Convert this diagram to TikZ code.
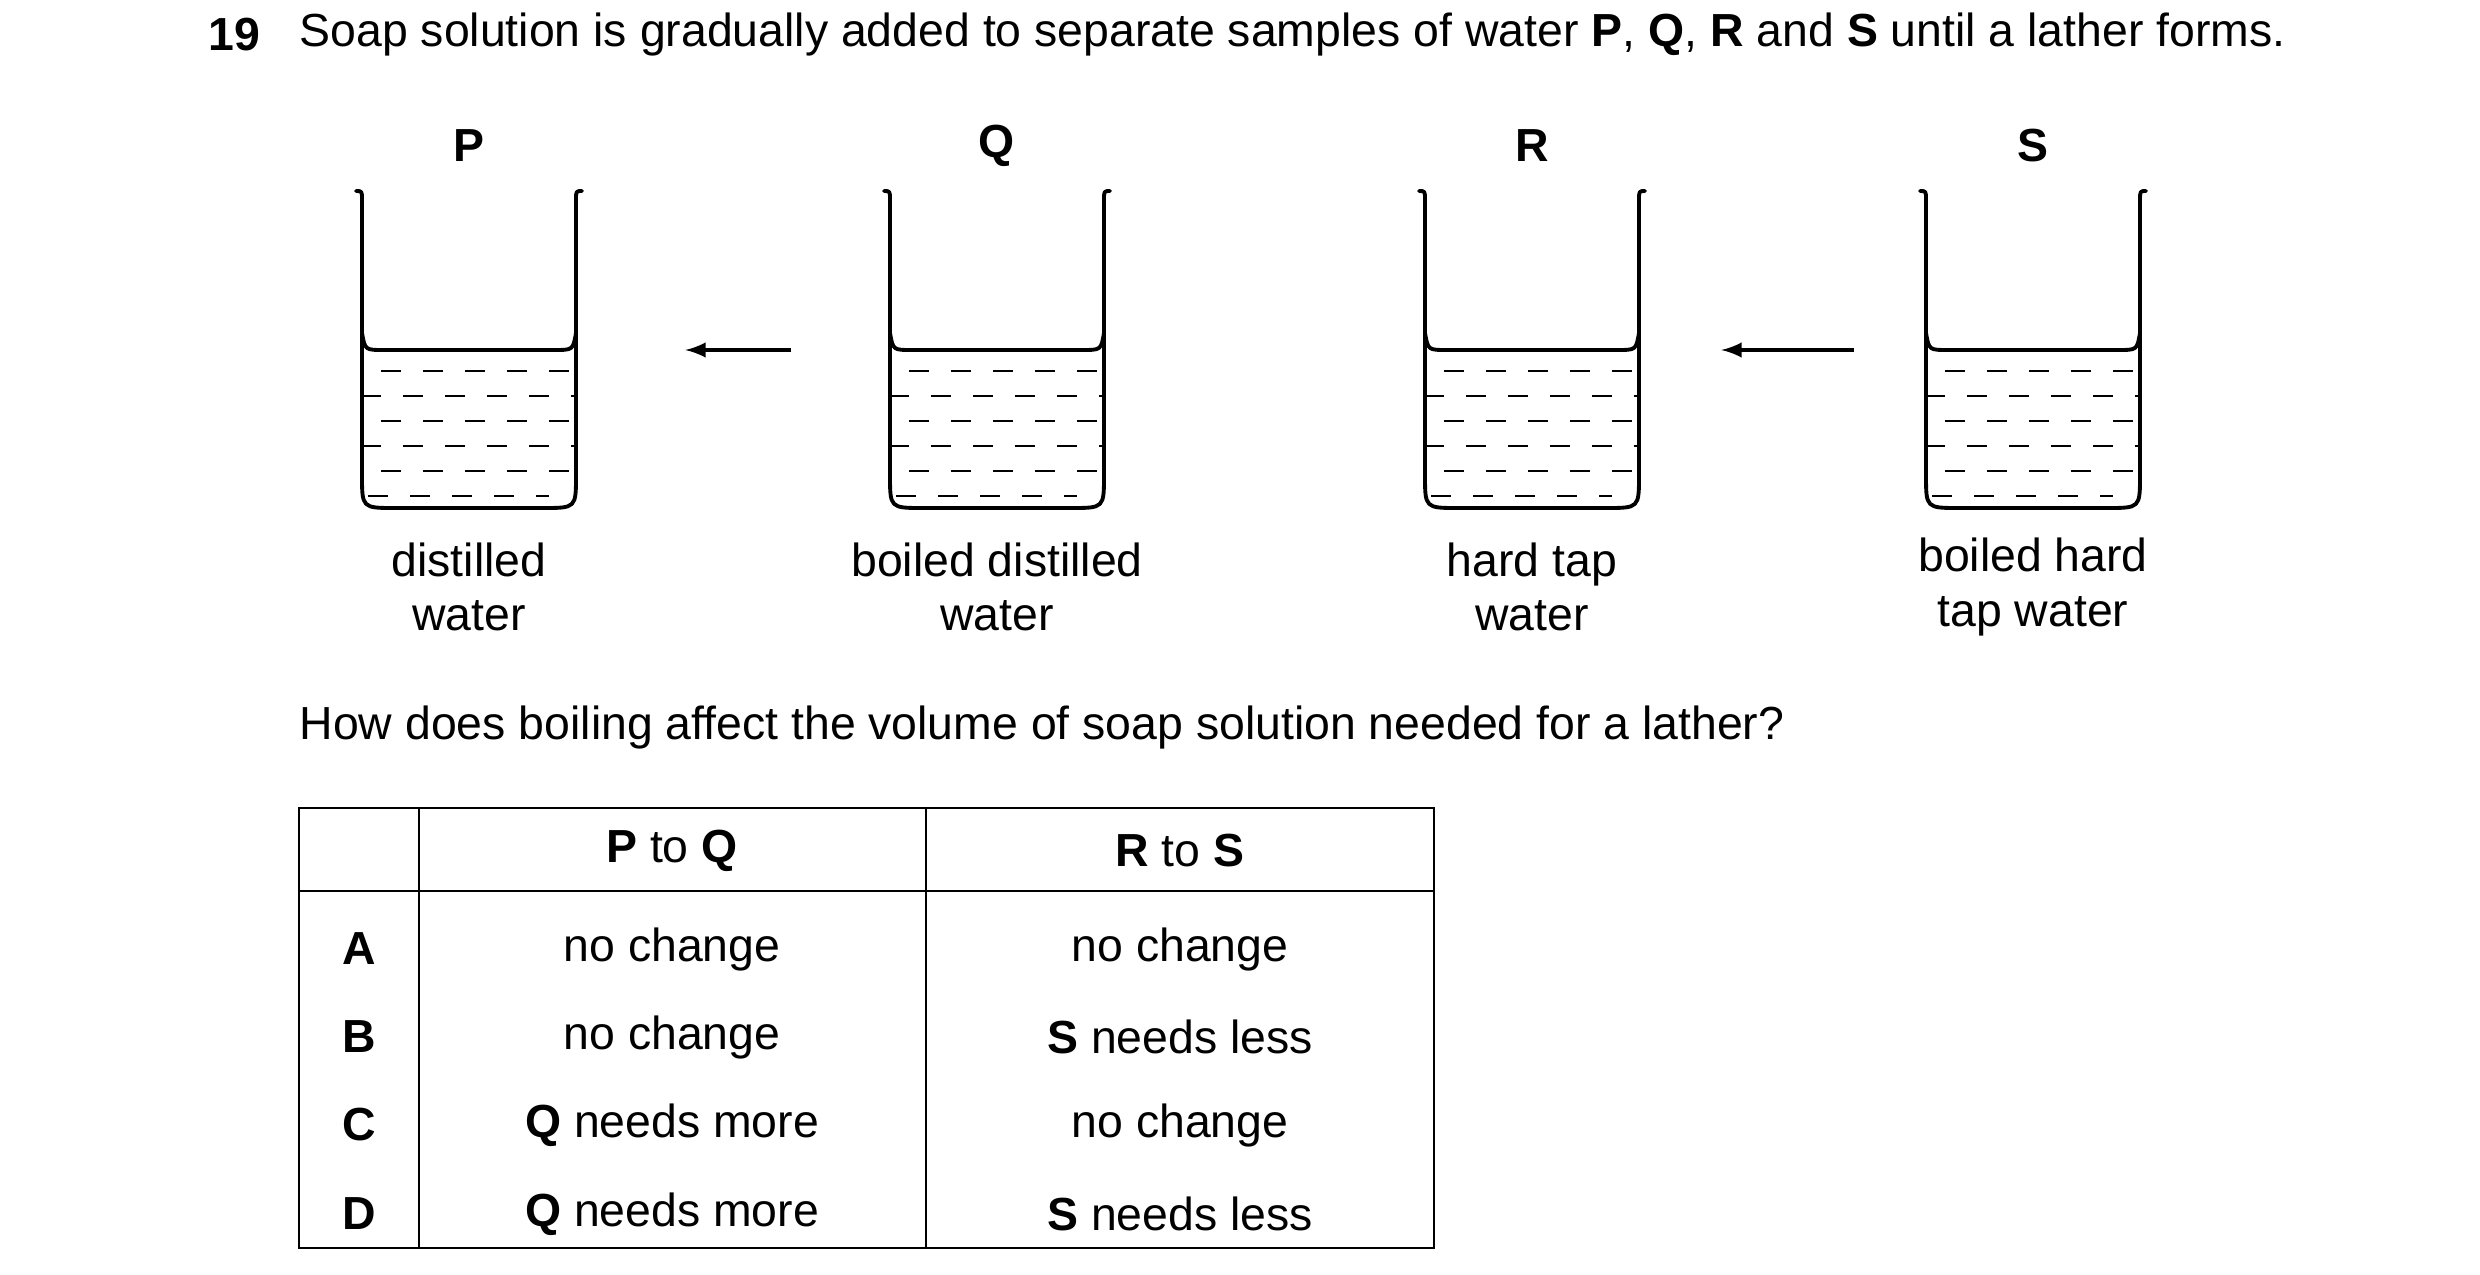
\documentclass[tikz,border=0pt]{standalone}
\usepackage{fontspec}
\setmainfont{Liberation Sans}
\begin{document}
\begin{tikzpicture}[x=0.1mm,y=-0.1mm,>=latex,
    txt/.style={inner sep=0pt,font=\fontsize{13.2}{15.5}\selectfont},
    caption/.style={txt,align=center},
    beaker/.style={inner sep=0pt,minimum width=213,minimum height=0pt},
    wall/.style={line width=1.1pt,line cap=round,line join=round},
    water/.style={line width=0.55pt}]
\useasboundingbox (0,0) rectangle (2480,1275);
\node[txt,anchor=west] (num) at (208,35) {\textbf{19}};
\node[txt,anchor=west] (title) at (299,35) {Soap solution is gradually added to separate samples of water \textbf{P}, \textbf{Q}, \textbf{R} and \textbf{S} until a lather forms.};
% beakers
\foreach \name/\x/\top/\bot in {P/469/distilled/water, Q/997/boiled distilled/water, R/1532/hard tap/water, S/2033/boiled hard/tap water}{
  \node[beaker] (b\name) at (\x,350) {};
  \node[txt] (l\name) at (\x,146) {\textbf{\name}};
  \node[caption] (c\name) at (\x,587) {\top\\\bot};
  \draw[wall] (\x-113,191) .. controls (\x-107,191) .. (\x-107,200) -- (\x-107,475)
    .. controls (\x-107,508) .. (\x-74,508) -- (\x+74,508)
    .. controls (\x+107,508) .. (\x+107,475) -- (\x+107,200)
    .. controls (\x+107,191) .. (\x+113,191);
  \draw[wall] (\x-107,333) .. controls (\x-104,350) .. (\x-85,350) -- (\x+85,350)
    .. controls (\x+104,350) .. (\x+107,333);
  \foreach \y in {371,421,471}
    \draw[water,dash pattern=on 5.69pt off 6.26pt] (\x-88,\y) -- (\x+100,\y);
  \foreach \y in {396,446}
    \draw[water,dash pattern=on 5.69pt off 6.26pt,dash phase=0.3pt] (\x-107,\y) -- (\x+107,\y);
  \draw[water,dash pattern=on 5.69pt off 6.26pt] (\x-101,496) -- (\x+80,496);
}
\draw[->,line width=1pt,shorten <=15pt,shorten >=18pt] (bP) -- (bQ);
\draw[->,line width=1pt,shorten <=15pt,shorten >=18pt] (bR) -- (bS);
\node[txt,anchor=west] (question) at (299,728) {How does boiling affect the volume of soap solution needed for a lather?};
% table
\draw[line width=0.7pt] (299,808) rectangle (1434,1248);
\draw[line width=0.7pt] (299,891) -- (1434,891);
\draw[line width=0.7pt] (419,808) -- (419,1248);
\draw[line width=0.7pt] (926,808) -- (926,1248);
\node[txt] (h1) at (672,851) {\textbf{P} to \textbf{Q}};
\node[txt] (h2) at (1180,851) {\textbf{R} to \textbf{S}};
\foreach \k/\y/\pq/\rs in {A/949/no change/no change, B/1037/no change/\textbf{S} needs less, C/1125/\textbf{Q} needs more/no change, D/1214/\textbf{Q} needs more/\textbf{S} needs less}{
  \node[txt] (k\k) at (359,\y) {\textbf{\k}};
  \node[txt] (pq\k) at (672,\y) {\pq};
  \node[txt] (rs\k) at (1180,\y) {\rs};
}
\end{tikzpicture}
\end{document}
